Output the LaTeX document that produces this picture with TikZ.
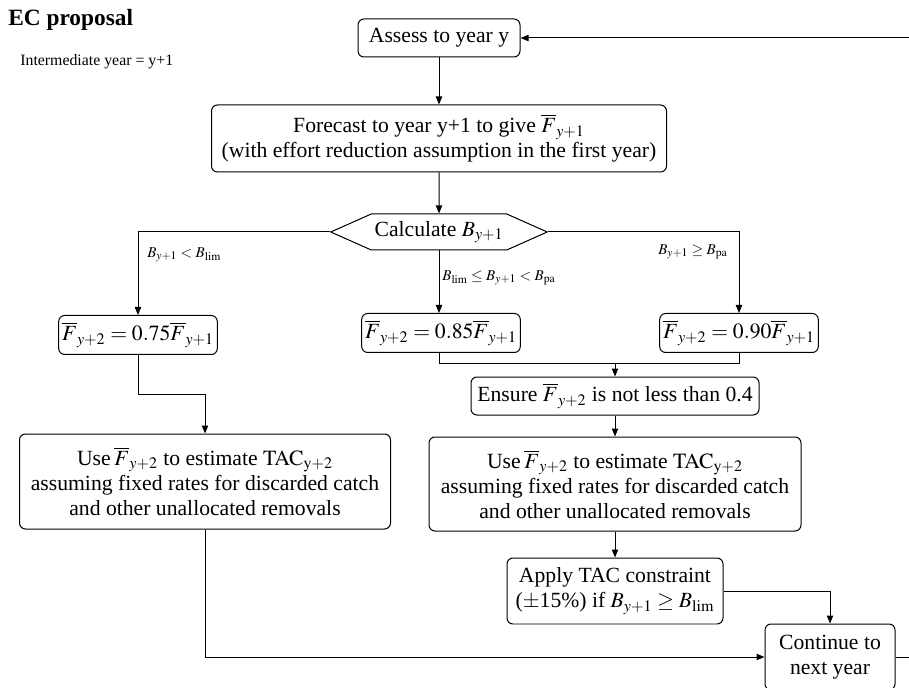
\documentclass[tikz,border=0pt]{standalone}
\usepackage{mathptmx}
\usepackage{fontspec}
\setmainfont{Liberation Serif}
\usetikzlibrary{shapes.symbols, arrows.meta, positioning}

\begin{document}
\begin{tikzpicture}[
    x=0.6pt, y=-0.6pt,
    box/.style={rectangle, draw, line width=0.6pt, rounded corners=3.6pt, align=center, inner sep=2pt, font=\fontsize{13}{15}\selectfont},
    calcbox/.style={signal, signal to=west and east, signal pointer angle=48, draw, line width=0.6pt, inner sep=2pt, font=\fontsize{13}{15}\selectfont, minimum width=126pt, minimum height=21.6pt},
    cond/.style={font=\fontsize{9}{11}\selectfont, inner sep=0pt},
    arrow/.style={-{Triangle[length=4.8pt, width=3.8pt]}, line width=0.6pt},
    line/.style={line width=0.6pt}
]
\useasboundingbox (0,0) rectangle (909,688);

\node[font=\fontsize{14}{16}\selectfont\bfseries, anchor=west, inner sep=0pt] (title) at (8,20) {EC proposal};
\node[font=\fontsize{9.5}{11}\selectfont, anchor=west, inner sep=0pt] (interm) at (20,62) {Intermediate year = y+1};

\node[box, minimum width=97.2pt, minimum height=22.8pt] (assess) at (439,38) {Assess to year y};
\node[box, below=28.2pt of assess, minimum width=273pt, minimum height=40.2pt] (forecast) {Forecast to year y+1 to give $\overline{F}_{y+1}$\\(with effort reduction assumption in the first year)};
\node[calcbox, below=24.6pt of forecast] (calc) {Calculate $B_{y+1}$};

\node[box, minimum width=93.6pt, minimum height=23.4pt] (flow) at (138,335) {$\overline{F}_{y+2}=0.75\overline{F}_{y+1}$};
\node[box, minimum width=94.2pt, minimum height=23.4pt] (fmid) at (441,333) {$\overline{F}_{y+2}=0.85\overline{F}_{y+1}$};
\node[box, minimum width=93.6pt, minimum height=23.4pt] (fhigh) at (739,333) {$\overline{F}_{y+2}=0.90\overline{F}_{y+1}$};

\node[cond, anchor=west] (lowlab) at (147,255) {$B_{y+1} < B_{\mathrm{lim}}$};
\node[cond, anchor=west] (midlab) at (442,278) {$B_{\mathrm{lim}} \le B_{y+1} < B_{\mathrm{pa}}$};
\node[cond, anchor=east] (highlab) at (728,252) {$B_{y+1} \ge B_{\mathrm{pa}}$};

\node[box, minimum width=172.8pt, minimum height=22.8pt] (ensure) at (615,396) {Ensure $\overline{F}_{y+2}$ is not less than 0.4};
\node[box, below=12.6pt of ensure, minimum width=223.2pt, minimum height=56.4pt] (use2) {Use\,$\overline{F}_{y+2}$ to estimate $\mathrm{TAC}_{\mathrm{y+2}}$\\assuming fixed rates for discarded catch\\and other unallocated removals};
\node[box, below=15.6pt of use2, minimum width=129.6pt, minimum height=39.6pt] (apply) {Apply TAC constraint\\($\pm$15\%) if $B_{y+1} \ge B_{\mathrm{lim}}$};

\node[box, minimum width=222.6pt, minimum height=57pt] (use1) at (205,481.5) {Use\,$\overline{F}_{y+2}$ to estimate $\mathrm{TAC}_{\mathrm{y+2}}$\\assuming fixed rates for discarded catch\\and other unallocated removals};
\node[box, minimum width=78pt, minimum height=39.6pt] (cont) at (830,657) {Continue to\\next year};

\coordinate (edge) at (909,0);
\coordinate[above=7.8pt of ensure.north] (join);

\draw[arrow] (assess) -- (forecast);
\draw[arrow] (forecast) -- (calc);
\draw[arrow] (calc.west) -| (flow.north);
\draw[arrow] (calc.south) -- (calc.south |- fmid.north);
\draw[arrow] (calc.east) -| (fhigh.north);
\draw[line] (calc.south |- fmid.south) |- (join) -| (fhigh.south);
\draw[arrow] (join) -- (ensure);
\draw[arrow] (flow.south) -- ++(0,-24pt) -| (use1.north);
\draw[arrow] (ensure) -- (use2);
\draw[arrow] (use2) -- (apply);
\draw[arrow] (apply.east) -| (cont.north);
\draw[arrow] (use1.south) |- (cont.west);
\draw[line] (cont.east) -- (cont.east -| edge);
\draw[arrow] (assess.east -| edge) -- (assess.east);

\end{tikzpicture}
\end{document}
